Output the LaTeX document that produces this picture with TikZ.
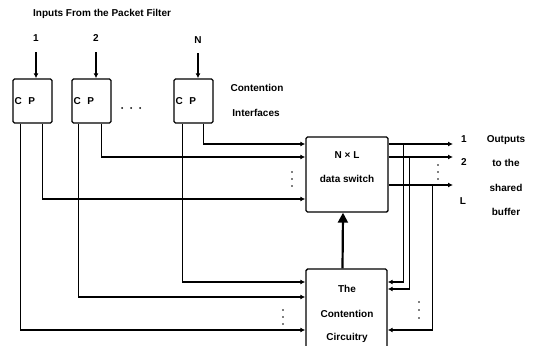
\documentclass[tikz,border=0pt]{standalone}
\usepackage{fontspec}
\setmainfont{Liberation Sans}
\usetikzlibrary{arrows.meta}

\tikzset{
  cpbox/.style={draw, line width=1.4pt, rounded corners=1.5pt, minimum height=44pt,
    text width=36pt, inner xsep=1.5pt, inner ysep=0pt, align=left},
  bigbox/.style={draw, line width=1.4pt, rounded corners=1.5pt, minimum width=82pt,
    minimum height=75pt, inner sep=0pt},
  sig/.style={line width=1.4pt, -{Latex[length=5pt,width=5pt]}},
  ctrl/.style={line width=2.2pt, -{Triangle[length=10pt,width=10pt]}},
}

\begin{document}
\begin{tikzpicture}[x=1pt, y=-1pt, font=\fontsize{10}{12}\selectfont\bfseries,
    every node/.append style={inner sep=0pt}]
    \useasboundingbox (0,0) rectangle (534,345);
    \clip (0,0) rectangle (534,345);

    % Title and input numbers
    \node[anchor=west] (title) at (33,14) {Inputs From the Packet Filter};
    \node (in1) at (36,38) {1};
    \node (in2) at (96,38) {2};
    \node (inN) at (198,40) {N};

    % Contention interfaces
    \node[cpbox] (cp1) at (32.5,101) {C\ \ P};
    \node[cpbox] (cp2) at (91.5,101) {C\ \ P};
    \node[cpbox] (cp3) at (193.5,101) {C\ \ P};
    \foreach \x in {122,131,140} \fill (\x,108) circle (1pt);
    \node (ci1) at (257,88) {Contention};
    \node (ci2) at (256,113) {Interfaces};

    % Switch and contention circuitry
    \node[bigbox] (sw) at (347,174.5) {};
    \node (sw1) at (347,155) {N × L};
    \node (sw2) at (347,179) {data switch};
    \node[bigbox, minimum width=81pt, minimum height=84pt] (cc) at (346.5,311) {};
    \node (cc1) at (347,289) {The};
    \node (cc2) at (347,314) {Contention};
    \node (cc3) at (347,338) {Circuitry};

    % Inputs into the interfaces
    \draw[sig] ([yshift=-14pt]in1.center) -- (in1 |- cp1.north);
    \draw[sig] ([yshift=-14pt]in2.center) -- (in2 |- cp2.north);
    \draw[sig] ([yshift=-13pt]inN.center) -- (inN |- cp3.north);

    % Packet lines to the switch
    \draw[sig] ([xshift=30pt]cp3.south west) |- (sw.west |- 0,144);
    \draw[sig] ([xshift=30pt]cp2.south west) |- (sw.west |- 0,157);
    \draw[sig] ([xshift=30pt]cp1.south west) |- (sw.west |- 0,199);
    \foreach \y in {172,179,186} \fill (292,\y) circle (0.9pt);

    % Contention lines to the circuitry
    \draw[sig] ([xshift=9pt]cp3.south west) |- (cc.west |- 0,282);
    \draw[sig] ([xshift=7pt]cp2.south west) |- (cc.west |- 0,297);
    \draw[sig] ([xshift=8pt]cp1.south west) |- (cc.west |- 0,330);
    \foreach \y in {310,317,324} \fill (283,\y) circle (0.9pt);

    % Control from the circuitry to the switch
    \draw[ctrl] ([xshift=-4pt]cc.north) -- ([xshift=-4pt]sw.south);

    % Outputs
    \coordinate (o1) at (453,144);
    \coordinate (o2) at (453,157);
    \coordinate (oL) at (453,185);
    \draw[sig] (sw.east |- o1) -- (o1);
    \draw[sig] (sw.east |- o2) -- (o2);
    \draw[sig] (sw.east |- oL) -- (oL);
    \foreach \y in {165,172,179} \fill (438,\y) circle (0.9pt);

    % Feedback of the outputs
    \draw[sig] ([xshift=15pt]sw.east |- o1) |- (cc.east |- 0,282);
    \draw[sig] ([xshift=21pt]sw.east |- o2) |- (cc.east |- 0,289);
    \draw[sig] ([xshift=44pt]sw.east |- oL) |- (cc.east |- 0,330);
    \foreach \y in {302,310,318} \fill (419,\y) circle (0.9pt);

    % Output labels
    \node (q1) at (464,139) {1};
    \node (q2) at (464,162) {2};
    \node (qL) at (463,201) {L};
    \node (ol1) at (506,140) {Outputs};
    \node (ol2) at (506,163) {to the};
    \node (ol3) at (506,188) {shared};
    \node (ol4) at (506,212) {buffer};
\end{tikzpicture}
\end{document}
